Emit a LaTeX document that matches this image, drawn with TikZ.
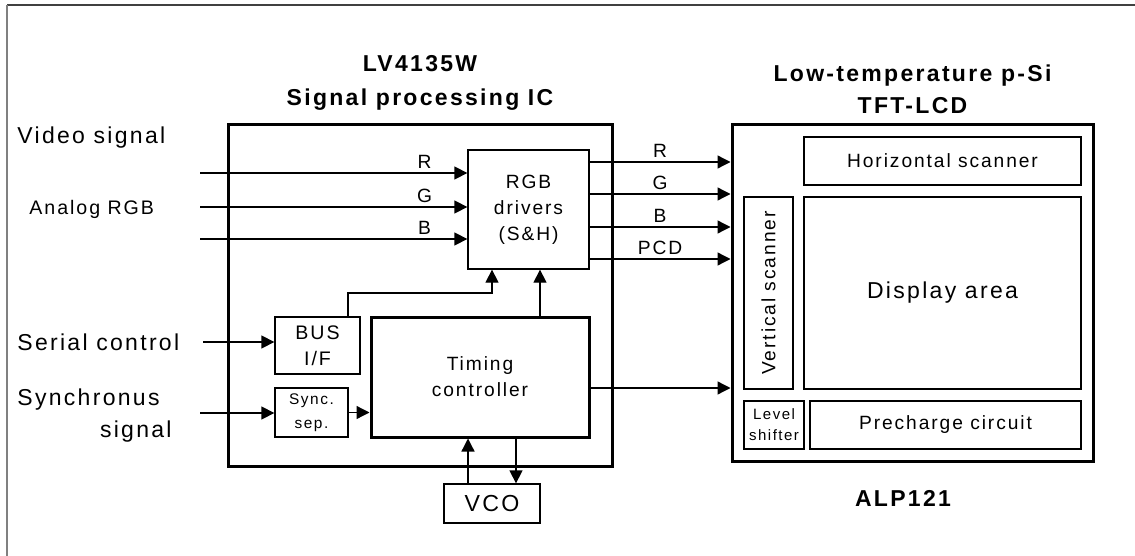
\documentclass[tikz,border=0pt]{standalone}
\usepackage{fontspec}
\setmainfont{Liberation Sans}[LetterSpace=10]
\usetikzlibrary{arrows.meta}

\newcommand{\fsz}[2]{\fontsize{#1}{#2}\selectfont}

\begin{document}
\begin{tikzpicture}[x=0.5pt,y=-0.5pt,
  blk/.style={draw,line width=0.65pt,inner sep=0pt,align=center,font=\fsz{9.6}{13}},
  chip/.style={draw,line width=1.5pt,inner sep=0pt},
  sig/.style={line width=0.65pt,-{Triangle[length=6.5pt,width=6.5pt]}},
  lbl/.style={inner sep=0pt,font=\fsz{11.5}{13}},
  ttl/.style={inner sep=0pt,font=\bfseries\fsz{11.5}{13}},
  tag/.style={font=\fsz{9.6}{11},inner sep=2pt}]
  \useasboundingbox (0,0) rectangle (1135,556);

  \draw[line width=1pt,black!75] (7,5) -- (1135,5);
  \draw[line width=1pt,black!50] (7,5) -- (7,556);

  % the two chips
  \node[chip,minimum width=192pt,minimum height=170.5pt] (ic) at (420,295.5) {};
  \node[chip,minimum width=180.5pt,minimum height=168pt] (lcd) at (912.5,293) {};

  \node[ttl,anchor=base] (ict1) at (420,72) {LV4135W};
  \node[ttl,anchor=base] (ict2) at (420,105) {Signal processing IC};
  \node[ttl,anchor=base] (lcdt1) at (912.5,82) {Low-temperature p-Si};
  \node[ttl,anchor=base] (lcdt2) at (912.5,113) {TFT-LCD};
  \node[ttl,anchor=base] (alp) at (903,506) {ALP121};

  % blocks of the IC
  \node[blk,minimum width=60.5pt,minimum height=59.5pt] (drv) at (528.5,209.5) {RGB\\drivers\\(S\&H)};
  \node[blk,line width=1.5pt,minimum width=109pt,minimum height=60pt] (tim) at (480,377) {Timing\\controller};
  \node[blk,minimum width=42.5pt,minimum height=28.5pt,font=\fsz{9.8}{13}] (bus) at (317.5,345.5) {BUS\\I/F};
  \node[blk,minimum width=36.5pt,minimum height=24.5pt,font=\fsz{7.7}{12}] (sync) at (311.5,412.5) {Sync.\\sep.};
  \node[blk,minimum width=48pt,minimum height=19.5pt,font=\fsz{11.6}{13}] (vco) at (492,503.5) {VCO};

  % blocks of the panel
  \node[blk,minimum width=138.5pt,minimum height=24pt] (hsc) at (942.5,161) {Horizontal scanner};
  \node[blk,rotate=90,minimum width=96pt,minimum height=24.5pt] (vsc) at (768.5,293) {Vertical scanner};
  \node[blk,minimum width=138.5pt,minimum height=96pt,font=\fsz{11.5}{13}] (disp) at (942.5,293) {Display area};
  \node[blk,minimum width=30pt,minimum height=24pt,font=\fsz{7.5}{10.5}] (lvl) at (774,425) {Level\\shifter};
  \node[blk,minimum width=135.5pt,minimum height=24pt] (pre) at (945.5,425) {Precharge circuit};

  % inputs
  \node[lbl,anchor=base west] (vid) at (17,143) {Video signal};
  \node[lbl,anchor=base west,font=\fsz{9.8}{11}] (ana) at (29,214) {Analog RGB};
  \node[lbl,anchor=base west] (ser) at (17,350) {Serial control};
  \node[lbl,anchor=base west] (syn1) at (17,405) {Synchronus};
  \node[lbl,anchor=base east] (syn2) at (172,437) {signal};

  \foreach \y/\c in {173/R,207/G,239/B}{
    \coordinate (in\c) at (200,\y);
    \draw[sig] (in\c) -- node[tag,above,pos=0.84]{\c} (in\c -| drv.west);
  }
  \coordinate (serin) at (203,342);
  \draw[sig] (serin) -- (serin -| bus.west);
  \coordinate (synin) at (200,413);
  \draw[sig] (synin) -- (synin -| sync.west);

  % inside the IC
  \draw[sig] (sync.east) -- (sync.east -| tim.west);
  \draw[sig] (bus.north -| 348,0) |- (492,293) -- (drv.south -| 492,0);
  \draw[sig] (tim.north -| 540,0) -- (drv.south -| 540,0);
  \draw[sig] (vco.north -| 468,0) -- (tim.south -| 468,0);
  \draw[sig] (tim.south -| 516,0) -- (vco.north -| 516,0);

  % IC to panel
  \foreach \y/\c in {162/R,194/G,227/B,259/PCD}
    \draw[sig] (drv.east |- 0,\y) -- node[tag,above]{\c} (lcd.west |- 0,\y);
  \draw[sig] (tim.east |- 0,388) -- (lcd.west |- 0,388);

\end{tikzpicture}
\end{document}
